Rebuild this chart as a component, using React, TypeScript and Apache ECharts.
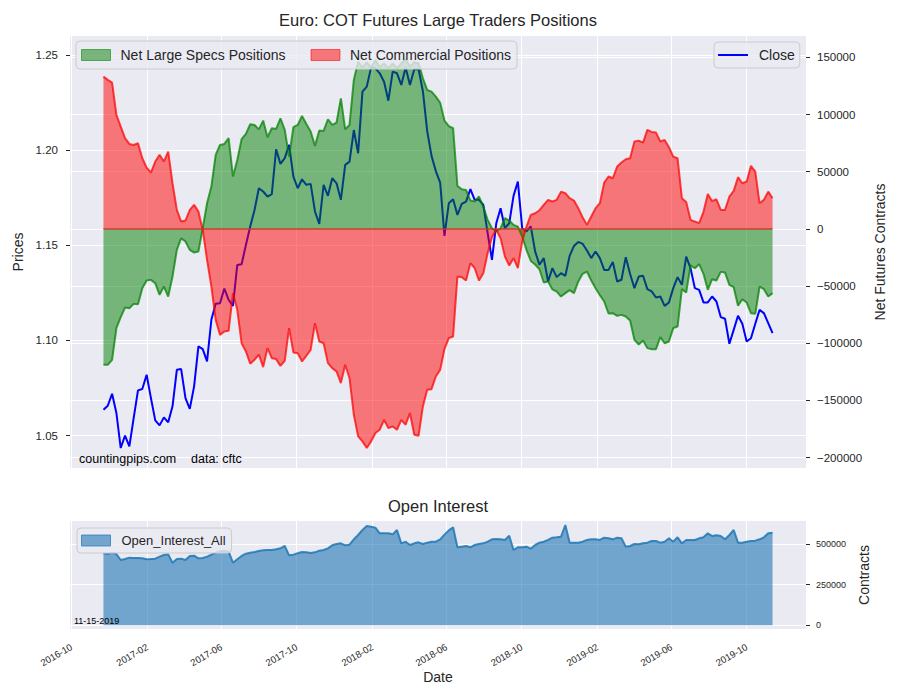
import { useEffect, useRef } from 'react'
import * as echarts from 'echarts'

// weekly COT report dates, first Tuesday of the series
const FIRST_WEEK = '2016-11-22'

const CLOSE = [
  1.0636, 1.0657, 1.0720, 1.0619, 1.0435, 1.0500, 1.0444, 1.0592, 1.0738, 1.0745,
  1.0820, 1.0697, 1.0580, 1.0554, 1.0596, 1.0570, 1.0654, 1.0846, 1.0850, 1.0697,
  1.0641, 1.0759, 1.0969, 1.0955, 1.0890, 1.1109, 1.1193, 1.1196, 1.1273, 1.1214,
  1.1182, 1.1397, 1.1401, 1.1502, 1.1599, 1.1686, 1.1800, 1.1783, 1.1756, 1.1769,
  1.2005, 1.1928, 1.1958, 1.2028, 1.1861, 1.1800, 1.1847, 1.1818, 1.1823, 1.1678,
  1.1613, 1.1818, 1.1760, 1.1853, 1.1826, 1.1739, 1.1923, 1.1940, 1.2106, 1.1984,
  1.2308, 1.2334, 1.2435, 1.2430, 1.2404, 1.2360, 1.2260, 1.2413, 1.2404, 1.2343,
  1.2435, 1.2343, 1.2425, 1.2425, 1.2310, 1.2100, 1.1970, 1.1890, 1.1830, 1.1550,
  1.1721, 1.1742, 1.1660, 1.1718, 1.1730, 1.1795, 1.1739, 1.1739, 1.1713, 1.1564,
  1.1424, 1.1616, 1.1695, 1.1590, 1.1616, 1.1760, 1.1835, 1.1590, 1.1573, 1.1599,
  1.1468, 1.1398, 1.1433, 1.1310, 1.1380, 1.1333, 1.1354, 1.1340, 1.1445, 1.1497,
  1.1518, 1.1508, 1.1473, 1.1433, 1.1468, 1.1433, 1.1371, 1.1371, 1.1412, 1.1310,
  1.1319, 1.1438, 1.1349, 1.1275, 1.1336, 1.1340, 1.1270, 1.1258, 1.1226, 1.1231,
  1.1182, 1.1200, 1.1275, 1.1333, 1.1293, 1.1441, 1.1380, 1.1275, 1.1266, 1.1200,
  1.1200, 1.1231, 1.1205, 1.1123, 1.1114, 1.0983, 1.1056, 1.1130, 1.1088, 1.0995,
  1.1012, 1.1088, 1.1161, 1.1144, 1.1091, 1.1039,
]

const NET_SPECS = [
  -118900, -118900, -114500, -86800, -77200, -68800, -69400, -65600, -65900, -51900,
  -45200, -44600, -47500, -57700, -50400, -59200, -41700, -18400, -8200, -11100,
  -18400, -20700, -19800, 600, 22400, 37000, 64700, 73400, 74300, 79300,
  45800, 60300, 78400, 83100, 91500, 90900, 87000, 94700, 80100, 88000,
  87400, 96700, 86600, 63200, 88900, 90900, 98800, 91800, 85100, 72600,
  86000, 85700, 95900, 90900, 93000, 114200, 87100, 90900, 130300, 146300,
  141300, 145700, 141300, 147700, 141300, 144800, 140500, 144800, 140500, 144800,
  148300, 141900, 145700, 144800, 131700, 121500, 120100, 115700, 110300, 94700,
  89800, 88000, 37600, 34700, 34100, 24800, 23900, 28300, 19500, 7900,
  600, -2300, 600, 9300, 7300, 3500, 2000, -6700, -18400, -28000,
  -31200, -35300, -46900, -46000, -53000, -54800, -59200, -56200, -53600, -56200,
  -46000, -39300, -37300, -45200, -51900, -58000, -63500, -74000, -73700, -76100,
  -75200, -76600, -80100, -97000, -101100, -97600, -104300, -105200, -105200, -94700,
  -100000, -98500, -86800, -85400, -52700, -55700, -31800, -34400, -30900, -39300,
  -53300, -44000, -45200, -37600, -38200, -49000, -51000, -67300, -61500, -64400,
  -73700, -74300, -50400, -52700, -59200, -56200,
]

const NET_COMM = [
  133200, 130300, 127900, 99700, 89500, 79300, 74300, 73400, 74900, 61800,
  53600, 49300, 58900, 64700, 58900, 67600, 39900, 16600, 6400, 7300,
  16600, 21000, 15200, -900, -27100, -50400, -79600, -92700, -89800, -89200,
  -56200, -70800, -100000, -107200, -118000, -114500, -110000, -120900, -104300, -113100,
  -113900, -119800, -115400, -86800, -108100, -108700, -116000, -111000, -105800, -82500,
  -98500, -100000, -117400, -121800, -124700, -134900, -118900, -130600, -162600, -181500,
  -185900, -191700, -185900, -178600, -175700, -167000, -174300, -172800, -175700, -167000,
  -171300, -161100, -180100, -181000, -155300, -140800, -140200, -129100, -123300, -105200,
  -95600, -94100, -41700, -42300, -45200, -30000, -34400, -45200, -38800, -21300,
  -7300, -900, -8200, -24200, -32100, -25600, -34400, -11100, 2000, 12200,
  13700, 16300, 21000, 25400, 23900, 25400, 32600, 31200, 26800, 24800,
  18100, 10200, 3500, 10800, 18100, 22400, 40500, 45800, 44300, 54500,
  58000, 60900, 61800, 76400, 77200, 75500, 86600, 84800, 84200, 76400,
  77800, 71400, 63200, 61800, 26800, 23600, 7900, 6400, 5000, 14900,
  30600, 24200, 25900, 16600, 16600, 28300, 33200, 45200, 39900, 41400,
  55100, 50100, 22400, 25400, 32600, 26800,
]

const OPEN_INTEREST = [
  442600, 438500, 446700, 438500, 401600, 407700, 415900, 413900, 413900, 411800,
  405700, 407700, 409800, 422100, 432300, 436400, 385100, 407700, 409800, 401600,
  426200, 428300, 411800, 413900, 422100, 434400, 446700, 454900, 459000, 452800,
  385100, 405700, 426200, 440500, 446700, 450800, 456900, 461000, 463100, 463100,
  467200, 473300, 487700, 430300, 434400, 442600, 450800, 448800, 444600, 448800,
  459000, 463100, 473300, 491800, 500000, 504100, 491800, 495900, 528700, 555300,
  586100, 610700, 606600, 600400, 565600, 565600, 565600, 559400, 586100, 504100,
  514300, 493800, 504100, 510200, 500000, 508200, 514300, 514300, 528700, 557400,
  584000, 602500, 479500, 483600, 487700, 479500, 493800, 500000, 504100, 514300,
  528700, 530800, 528700, 524600, 551200, 463100, 479500, 479500, 483600, 471300,
  493800, 508200, 514300, 524600, 538900, 541000, 545100, 616800, 508200, 508200,
  508200, 514300, 524600, 528700, 528700, 524600, 538900, 534900, 528700, 538900,
  534900, 483600, 487700, 500000, 497900, 504100, 508200, 518400, 518400, 508200,
  514300, 534900, 514300, 541000, 504100, 524600, 524600, 524600, 534900, 541000,
  565600, 549200, 553300, 549200, 528700, 555300, 586100, 508200, 508200, 514300,
  518400, 520500, 528700, 541000, 565600, 569700,
]

const DATE_TICKS  = ['2016-10', '2017-02', '2017-06', '2017-10', '2018-02', '2018-06', '2018-10', '2019-02', '2019-06', '2019-10']
const PRICE_TICKS = [1.05, 1.10, 1.15, 1.20, 1.25]
const NET_TICKS   = [-200000, -150000, -100000, -50000, 0, 50000, 100000, 150000]
const OI_TICKS    = [0, 250000, 500000]

const DAY  = 86400000
const FONT = 'Liberation Sans, Arial, sans-serif'
const INK  = '#262626'
const BG   = '#EAEAF2'

const monthTs = (s: string) => {
  const [y, m] = s.split('-').map(Number)
  return Date.UTC(y, m - 1, 1)
}
const fmtMonth = (v: number) => {
  const d = new Date(v)
  return `${d.getUTCFullYear()}-${String(d.getUTCMonth() + 1).padStart(2, '0')}`
}
const fmtInt = (v: number) => (v < 0 ? '\u2212' + Math.abs(v) : String(v))

export default function App() {
  const ref = useRef<HTMLDivElement>(null)

  useEffect(() => {
    if (!ref.current) return
    const chart = echarts.init(ref.current, null, { renderer: 'svg' })

    const t0    = Date.parse(FIRST_WEEK + 'T00:00:00Z')
    const dates = CLOSE.map((_, i) => t0 + i * 7 * DAY)
    const tEnd  = dates[dates.length - 1]
    const pad   = (tEnd - t0) * 0.05
    const xMin  = t0 - pad
    const xMax  = tEnd + pad
    const xTicks = DATE_TICKS.map(monthTs)

    const white = { show: true, lineStyle: { color: '#ffffff', width: 1 } }
    const legendBox = {
      backgroundColor: 'rgba(234,234,242,0.8)',
      borderColor: '#cccccc',
      borderWidth: 1,
      borderRadius: 4,
      selectedMode: false,
      orient: 'horizontal',
    }

    chart.setOption({
      animation: false,
      backgroundColor: '#ffffff',
      textStyle: { fontFamily: FONT, color: INK },
      title: [
        {
          text: 'Euro: COT Futures Large Traders Positions',
          left: 438, top: 11, textAlign: 'center', padding: 0,
          textStyle: { fontSize: 16.5, fontWeight: 'normal', color: INK, fontFamily: FONT },
        },
        {
          text: 'Open Interest',
          left: 438, top: 497, textAlign: 'center', padding: 0,
          textStyle: { fontSize: 16.5, fontWeight: 'normal', color: INK, fontFamily: FONT },
        },
      ],
      legend: [
        {
          ...legendBox,
          left: 76, top: 41, padding: [7, 6, 7, 5],
          itemWidth: 29, itemHeight: 11, itemGap: 25,
          textStyle: { fontSize: 14, color: INK, fontFamily: FONT, padding: [0, 0, 0, 5] },
          data: [
            { name: 'Net Large Specs Positions', icon: 'rect',
              itemStyle: { color: 'rgba(0,128,0,0.5)', borderColor: 'rgba(0,128,0,0.55)', borderWidth: 1 } },
            { name: 'Net Commercial Positions', icon: 'rect',
              itemStyle: { color: 'rgba(255,0,0,0.5)', borderColor: 'rgba(255,0,0,0.55)', borderWidth: 1 } },
          ],
        },
        {
          ...legendBox,
          left: 714, top: 42, padding: [6, 5, 6, 4],
          itemWidth: 30, itemHeight: 2,
          textStyle: { fontSize: 14, color: INK, fontFamily: FONT, padding: [0, 0, 0, 6], lineHeight: 13 },
          data: [{ name: 'Close', icon: 'rect', itemStyle: { color: '#0000ff', borderWidth: 0 } }],
        },
        {
          ...legendBox,
          left: 77, top: 528, padding: [6, 6, 6, 4],
          itemWidth: 29, itemHeight: 11,
          textStyle: { fontSize: 13, color: INK, fontFamily: FONT, padding: [0, 0, 0, 6] },
          data: [{ name: 'Open_Interest_All', icon: 'rect',
                   itemStyle: { color: 'rgba(31,119,180,0.6)', borderColor: 'rgba(31,119,180,0.7)', borderWidth: 1 } }],
        },
      ],
      grid: [
        { left: 70, top: 36, width: 736, height: 432, show: true, backgroundColor: BG, borderWidth: 0, outerBoundsMode: 'none' },
        { left: 70, top: 521, width: 736, height: 108, show: true, backgroundColor: BG, borderWidth: 0, outerBoundsMode: 'none' },
      ],
      xAxis: [
        {
          gridIndex: 0, type: 'value', min: xMin, max: xMax,
          axisLine: { show: false },
          axisTick: { show: false, customValues: xTicks },
          axisLabel: { show: false, customValues: xTicks },
          splitLine: white,
        },
        {
          gridIndex: 1, type: 'value', min: xMin, max: xMax,
          name: 'Date', nameLocation: 'middle', nameGap: 41,
          nameTextStyle: { fontSize: 14, color: INK, fontFamily: FONT },
          axisLine: { show: false },
          axisTick: { show: false, customValues: xTicks },
          axisLabel: {
            customValues: xTicks, rotate: 30, margin: 17,
            fontSize: 9.5, color: INK, fontFamily: FONT,
            formatter: fmtMonth,
          },
          splitLine: white,
        },
      ],
      yAxis: [
        {
          gridIndex: 0, type: 'value', position: 'left',
          min: 1.033, max: 1.26,
          name: 'Prices', nameLocation: 'middle', nameGap: 40,
          nameTextStyle: { fontSize: 14, color: INK, fontFamily: FONT },
          axisLine: { show: false },
          axisTick: { show: true, length: 4, customValues: PRICE_TICKS, lineStyle: { color: INK, width: 1 } },
          axisLabel: { customValues: PRICE_TICKS, margin: 12, fontSize: 11.5, color: INK, fontFamily: FONT,
                       formatter: (v: number) => v.toFixed(2) },
          splitLine: white,
        },
        {
          gridIndex: 0, type: 'value', position: 'right',
          min: -209150, max: 168700,
          name: 'Net Futures Contracts', nameLocation: 'middle', nameGap: 60,
          nameTextStyle: { fontSize: 14, color: INK, fontFamily: FONT },
          axisLine: { show: false },
          axisTick: { show: true, length: 4, customValues: NET_TICKS, lineStyle: { color: INK, width: 1 } },
          axisLabel: { customValues: NET_TICKS, margin: 11, fontSize: 11.5, color: INK, fontFamily: FONT,
                       formatter: fmtInt },
          splitLine: white,
        },
        {
          gridIndex: 1, type: 'value', position: 'right',
          min: -22750, max: 641400,
          name: 'Contracts', nameLocation: 'middle', nameGap: 47,
          nameTextStyle: { fontSize: 14, color: INK, fontFamily: FONT },
          axisLine: { show: false },
          axisTick: { show: true, length: 4, customValues: OI_TICKS, lineStyle: { color: INK, width: 1 } },
          axisLabel: { customValues: OI_TICKS, margin: 10, fontSize: 9, color: INK, fontFamily: FONT,
                       formatter: fmtInt },
          splitLine: white,
        },
      ],
      series: [
        {
          name: 'Close', type: 'line', xAxisIndex: 0, yAxisIndex: 0, z: 2,
          symbol: 'none',
          data: dates.map((d, i) => [d, CLOSE[i]]),
          itemStyle: { color: '#0000ff' },
          lineStyle: { color: '#0000ff', width: 2 },
        },
        {
          name: 'Net Large Specs Positions', type: 'line', xAxisIndex: 0, yAxisIndex: 1, z: 3,
          symbol: 'none',
          data: dates.map((d, i) => [d, NET_SPECS[i]]),
          itemStyle: { color: 'rgba(0,128,0,0.5)' },
          lineStyle: { color: 'rgba(0,128,0,0.72)', width: 2 },
          areaStyle: { color: 'rgba(0,128,0,0.5)', opacity: 1, origin: 0 },
        },
        {
          name: 'Net Commercial Positions', type: 'line', xAxisIndex: 0, yAxisIndex: 1, z: 3,
          symbol: 'none',
          data: dates.map((d, i) => [d, NET_COMM[i]]),
          itemStyle: { color: 'rgba(255,0,0,0.5)' },
          lineStyle: { color: 'rgba(255,0,0,0.72)', width: 2 },
          areaStyle: { color: 'rgba(255,0,0,0.5)', opacity: 1, origin: 0 },
        },
        {
          name: 'zero', type: 'line', xAxisIndex: 0, yAxisIndex: 1, z: 4,
          symbol: 'none', silent: true,
          data: [[t0, 0], [tEnd, 0]],
          lineStyle: { color: 'rgba(200,55,35,0.9)', width: 1.5 },
        },
        {
          name: 'Open_Interest_All', type: 'line', xAxisIndex: 1, yAxisIndex: 2, z: 3,
          symbol: 'none',
          data: dates.map((d, i) => [d, OPEN_INTEREST[i]]),
          itemStyle: { color: 'rgba(31,119,180,0.6)' },
          lineStyle: { color: 'rgba(31,119,180,0.85)', width: 2 },
          areaStyle: { color: 'rgba(31,119,180,0.6)', opacity: 1, origin: 0 },
        },
      ],
      graphic: [
        { type: 'text', left: 79, top: 452, z: 100,
          style: { text: 'countingpips.com', fontSize: 12.5, fill: '#000', fontFamily: FONT } },
        { type: 'text', left: 191, top: 452, z: 100,
          style: { text: 'data: cftc', fontSize: 12.5, fill: '#000', fontFamily: FONT } },
        { type: 'text', left: 74, top: 616, z: 100,
          style: { text: '11-15-2019', fontSize: 9, fill: '#000', fontFamily: FONT } },
      ],
    })

    return () => chart.dispose()
  }, [])

  return <div ref={ref} style={{ position: 'absolute', left: 0, top: 0, width: 900, height: 700 }} />
}
